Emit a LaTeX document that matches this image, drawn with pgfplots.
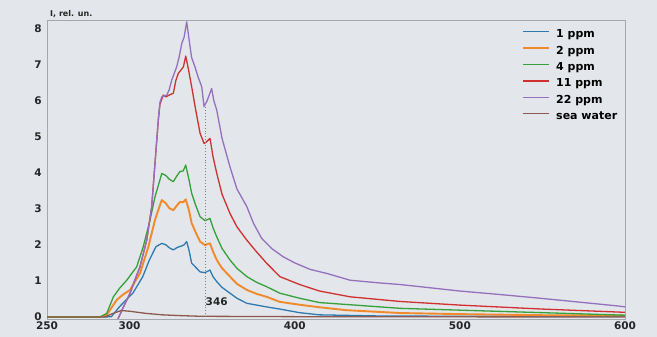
\documentclass[border=0pt]{standalone}
\usepackage{fontspec}
\setmainfont{DejaVu Sans}
\usepackage{pgfplots}
\pgfplotsset{compat=1.18}
\definecolor{bg}{HTML}{E3E6EA}
\definecolor{framec}{HTML}{A4A8AD}
\definecolor{c1}{HTML}{2E79B0}
\definecolor{c2}{HTML}{F08A2A}
\definecolor{c3}{HTML}{36A03A}
\definecolor{c4}{HTML}{D0302F}
\definecolor{c5}{HTML}{9470BE}
\definecolor{c6}{HTML}{8C5A50}
\begin{document}
\begin{tikzpicture}[x=1pt,y=1pt]
\useasboundingbox (0,0) rectangle (657,337);
\fill[bg] (0,0) rectangle (657,337);
\begin{axis}[
  at={(47pt,18pt)}, anchor=south west,
  width=578pt, height=299pt, scale only axis,
  xmin=250, xmax=600, ymin=-0.055, ymax=8.23,
  axis line style={framec, line width=0.8pt},
  xtick={250,300,400,500,600},
  ytick={0,1,2,3,4,5,6,7,8},
  major tick length=0pt,
  /pgf/number format/assume math mode=true,
  ticklabel style={font=\bfseries\fontsize{10.5}{12}\selectfont, text=black!85},
  xticklabel style={inner sep=0pt, yshift=-3pt},
  yticklabel style={inner sep=0pt, xshift=-5pt},
  clip=true,
  legend style={at={(rel axis cs:0.822,0.965)}, anchor=north west, draw=none, fill=none,
    font=\bfseries\fontsize{11}{12}\selectfont, inner sep=0pt,
    nodes={inner sep=0pt, text height=7pt, text depth=2pt}, row sep=7.4pt, column sep=6pt},
  legend cell align=left,
  legend image code/.code={\draw[#1] (0pt,3.5pt) -- (26pt,3.5pt);},
  every axis plot/.append style={line width=1.3pt, line join=round},
]
\addplot[c1] coordinates {(250,0) (285,0) (289,0.01) (294,0.29) (298,0.48) (302,0.66) (308,1.12) (312,1.58) (316,1.95) (319.5,2.04) (322,2.0) (324,1.92) (326.5,1.86) (329,1.93) (331.6,1.97) (333,2.0) (334.6,2.09) (336,1.85) (337.6,1.49) (340,1.38) (342.7,1.25) (345.7,1.23) (348.7,1.30) (350.5,1.12) (352.8,0.98) (356,0.82) (360.8,0.66) (365,0.52) (371,0.38) (377,0.33) (383,0.28) (391,0.22) (403,0.12) (415,0.06) (450,0.03) (500,0.02) (600,0.02)};
\addlegendentry{1 ppm}
\addplot[c2, line width=1.9pt] coordinates {(250,0) (283,0) (286,0.05) (292.2,0.47) (296,0.62) (300.3,0.75) (306.3,1.21) (311.4,1.95) (315.4,2.69) (318.4,3.10) (319.5,3.24) (322,3.15) (324,3.02) (326.5,2.96) (328.5,3.08) (330.5,3.19) (332.5,3.18) (334,3.26) (336,2.95) (337.6,2.60) (340,2.35) (342.7,2.09) (345.7,1.99) (347,2.02) (348.7,2.04) (350.5,1.82) (352.8,1.58) (356,1.35) (360.8,1.12) (365,0.92) (371,0.75) (377,0.64) (383,0.56) (391,0.42) (403,0.34) (415,0.27) (431,0.19) (464,0.11) (500,0.08) (550,0.05) (600,0.04)};
\addlegendentry{2 ppm}
\addplot[c3] coordinates {(250,0) (282,0) (286.2,0.10) (290.2,0.56) (294,0.80) (298.3,1.02) (304.3,1.39) (308.3,1.95) (312.4,2.69) (315.4,3.33) (318.4,3.80) (319.5,3.98) (322,3.92) (324,3.82) (326.5,3.75) (328.5,3.90) (330.5,4.03) (332.5,4.05) (334,4.21) (336,3.80) (337.6,3.43) (340,3.10) (342.7,2.78) (345.7,2.67) (348.7,2.73) (350.5,2.48) (352.8,2.22) (356,1.90) (360.8,1.58) (365,1.35) (371,1.12) (377,0.96) (383,0.84) (391,0.66) (403,0.52) (415,0.40) (433.5,0.34) (464,0.24) (500,0.19) (550,0.12) (600,0.05)};
\addlegendentry{4 ppm}
\addplot[c4] coordinates {(292.5,-0.1) (296,0.25) (300.3,0.66) (303,1.0) (306.3,1.39) (310.4,2.13) (313.4,3.06) (315.4,4.26) (317.4,5.46) (318.4,5.90) (320.4,6.15) (322,6.10) (324,6.15) (326.5,6.2) (328,6.55) (329.5,6.75) (332.6,6.93) (334,7.23) (335.5,6.9) (337.6,6.38) (340,5.75) (342.7,5.09) (345.1,4.81) (346.5,4.85) (348.7,4.95) (350.5,4.45) (352.8,3.98) (356,3.40) (360.8,2.87) (365,2.50) (371,2.13) (377,1.80) (383,1.49) (391,1.12) (403,0.90) (415,0.72) (433.5,0.56) (464,0.43) (500,0.33) (550,0.22) (600,0.13)};
\addlegendentry{11 ppm}
\addplot[c5] coordinates {(292.5,-0.1) (296,0.25) (300.3,0.66) (303,1.0) (306.3,1.39) (310.4,2.13) (313.4,3.06) (315.4,4.26) (317.4,5.46) (318.4,5.95) (319.5,6.10) (322.5,6.15) (324,6.3) (325.5,6.56) (328.5,6.93) (330,7.2) (331.6,7.58) (333,7.75) (334.6,8.18) (336,7.7) (337.5,7.2) (339.6,6.93) (341.5,6.65) (343.7,6.38) (345.1,5.83) (347,6.0) (349.7,6.33) (351,6.0) (352.8,5.73) (356,4.95) (360.8,4.16) (365,3.55) (371,3.06) (375,2.6) (380,2.18) (386,1.9) (393,1.67) (400,1.5) (409.3,1.32) (420,1.2) (433.5,1.02) (450,0.95) (463.8,0.90) (480,0.82) (500,0.72) (525,0.62) (548.6,0.52) (575,0.40) (597,0.30) (600,0.28)};
\addlegendentry{22 ppm}
\addplot[c6] coordinates {(250,0) (285,0) (290,0.10) (295,0.18) (300,0.16) (310,0.10) (320,0.06) (330,0.04) (343,0.02) (400,0.01) (600,0.0)};
\addlegendentry{sea water}
\draw[gray, dotted, line width=0.9pt] (axis cs:346,0) -- (axis cs:346,5.85);
\node[anchor=west, inner sep=0pt, font=\bfseries\fontsize{10.5}{12}\selectfont, text=black!85] at (axis cs:346,0.42) {346};
\end{axis}
\node[anchor=west, inner sep=0pt, font=\bfseries\fontsize{8}{10}\selectfont, text=black!85] at (50,323) {I, rel. un.};
\end{tikzpicture}
\end{document}
